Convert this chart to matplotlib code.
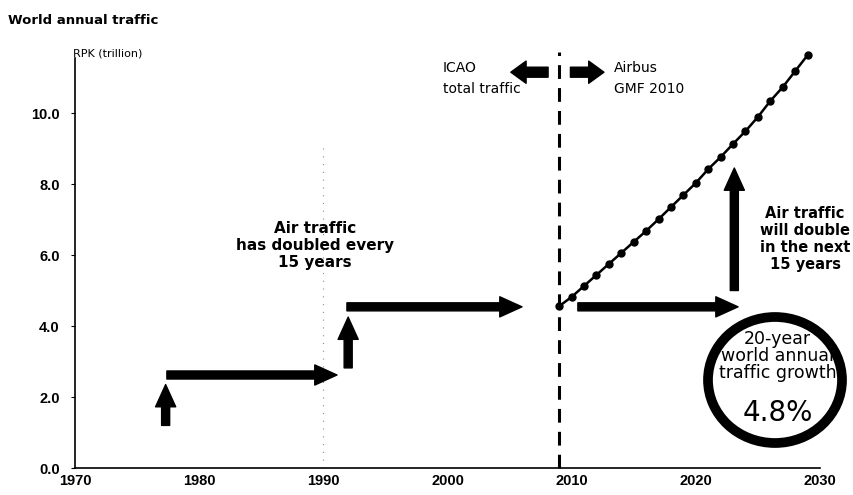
import matplotlib.pyplot as plt
from matplotlib.patches import Ellipse

# forecast series (Airbus GMF 2010), RPK in trillions
years = [2009, 2010, 2011, 2012, 2013, 2014, 2015, 2016, 2017, 2018, 2019,
         2020, 2021, 2022, 2023, 2024, 2025, 2026, 2027, 2028, 2029]
rpk = [4.56, 4.82, 5.13, 5.44, 5.75, 6.06, 6.37, 6.68, 7.01, 7.35, 7.69,
       8.03, 8.42, 8.76, 9.13, 9.49, 9.89, 10.34, 10.73, 11.18, 11.63]

xticks = [1970, 1980, 1990, 2000, 2010, 2020, 2030]
yticks = [0.0, 2.0, 4.0, 6.0, 8.0, 10.0]

# "doubling" staircase arrows: (x0, y0, x1, y1)
steps = [
    (1977.3, 1.2, 1977.3, 2.35),
    (1977.4, 2.62, 1991.1, 2.62),
    (1992.0, 2.82, 1992.0, 4.25),
    (1991.9, 4.54, 2006.0, 4.54),
    (2010.5, 4.54, 2023.4, 4.54),
    (2023.1, 5.0, 2023.1, 8.45),
]

fig = plt.figure(figsize=(8.54, 4.95), dpi=100)
ax = fig.add_axes([75 / 854, 27 / 495, 745 / 854, 410 / 495])
ax.set_xlim(1970, 2030)
ax.set_ylim(0, 11.55)

for s in ['top', 'right']:
    ax.spines[s].set_visible(False)
for s in ['left', 'bottom']:
    ax.spines[s].set_linewidth(1.2)

ax.set_xticks(xticks)
ax.set_yticks(yticks)
ax.set_yticklabels(['%.1f' % v for v in yticks])
ax.tick_params(axis='x', length=0, pad=4)
ax.tick_params(axis='y', length=3, pad=8)
for lab in ax.get_xticklabels() + ax.get_yticklabels():
    lab.set_fontfamily('Liberation Sans')
    lab.set_fontweight('bold')
    lab.set_fontsize(10.5)

# faint dotted guide at 1990
ax.axvline(1990, ymax=0.78, color='0.55', lw=0.8, ls=(0, (1, 6)))

# split between history and forecast
ax.plot([2009, 2009], [0, 11.72], color='black', lw=2.2, ls=(0, (4.5, 3)),
        clip_on=False)

ax.plot(years, rpk, color='black', lw=1.8, marker='o', ms=5, clip_on=False)

for x0, y0, x1, y1 in steps:
    ax.annotate('', xy=(x1, y1), xytext=(x0, y0),
                arrowprops=dict(arrowstyle='simple,head_width=1.45,head_length=1.6,tail_width=0.58',
                                mutation_scale=10, fc='black', ec='black',
                                shrinkA=0, shrinkB=0))

# block arrows pointing to the two sources
block = 'simple,head_width=1.6,head_length=1.1,tail_width=0.72'
ax.annotate('', xy=(2005.1, 11.15), xytext=(2008.1, 11.15), annotation_clip=False,
            arrowprops=dict(arrowstyle=block, mutation_scale=10, fc='black',
                            ec='black', shrinkA=0, shrinkB=0))
ax.annotate('', xy=(2012.6, 11.15), xytext=(2009.9, 11.15), annotation_clip=False,
            arrowprops=dict(arrowstyle=block, mutation_scale=10, fc='black',
                            ec='black', shrinkA=0, shrinkB=0))

ax.text(1999.6, 10.98, 'ICAO\ntotal traffic', fontsize=10, ha='left', va='center',
        linespacing=1.6)
ax.text(2013.4, 10.98, 'Airbus\nGMF 2010', fontsize=10, ha='left', va='center',
        linespacing=1.6)

ax.text(1989.3, 6.26, 'Air traffic\nhas doubled every\n15 years', fontsize=11,
        fontweight='bold', ha='center', va='center', linespacing=1.15)
ax.text(2028.8, 6.45, 'Air traffic\nwill double\nin the next\n15 years', fontsize=10.5,
        fontweight='bold', ha='center', va='center', linespacing=1.15)

# growth-rate badge
ring = Ellipse((775 / 854, 1 - 380 / 495), 134 / 854, 126 / 495,
               transform=fig.transFigure, fill=False, ec='black', lw=7)
fig.patches.append(ring)
ax.text(2026.6, 3.15, '20-year\nworld annual\ntraffic growth', fontsize=12.5,
        ha='center', va='center', linespacing=0.95)
ax.text(2026.6, 1.55, '4.8%', fontsize=20, ha='center', va='center')

fig.text(8 / 854, 1 - 20 / 495, 'World annual traffic', fontsize=9.5,
         fontweight='bold', ha='left', va='center')
fig.text(73 / 854, 1 - 53 / 495, 'RPK (trillion)', fontsize=8, ha='left',
         va='center')

fig.savefig('out.png', dpi=100)
